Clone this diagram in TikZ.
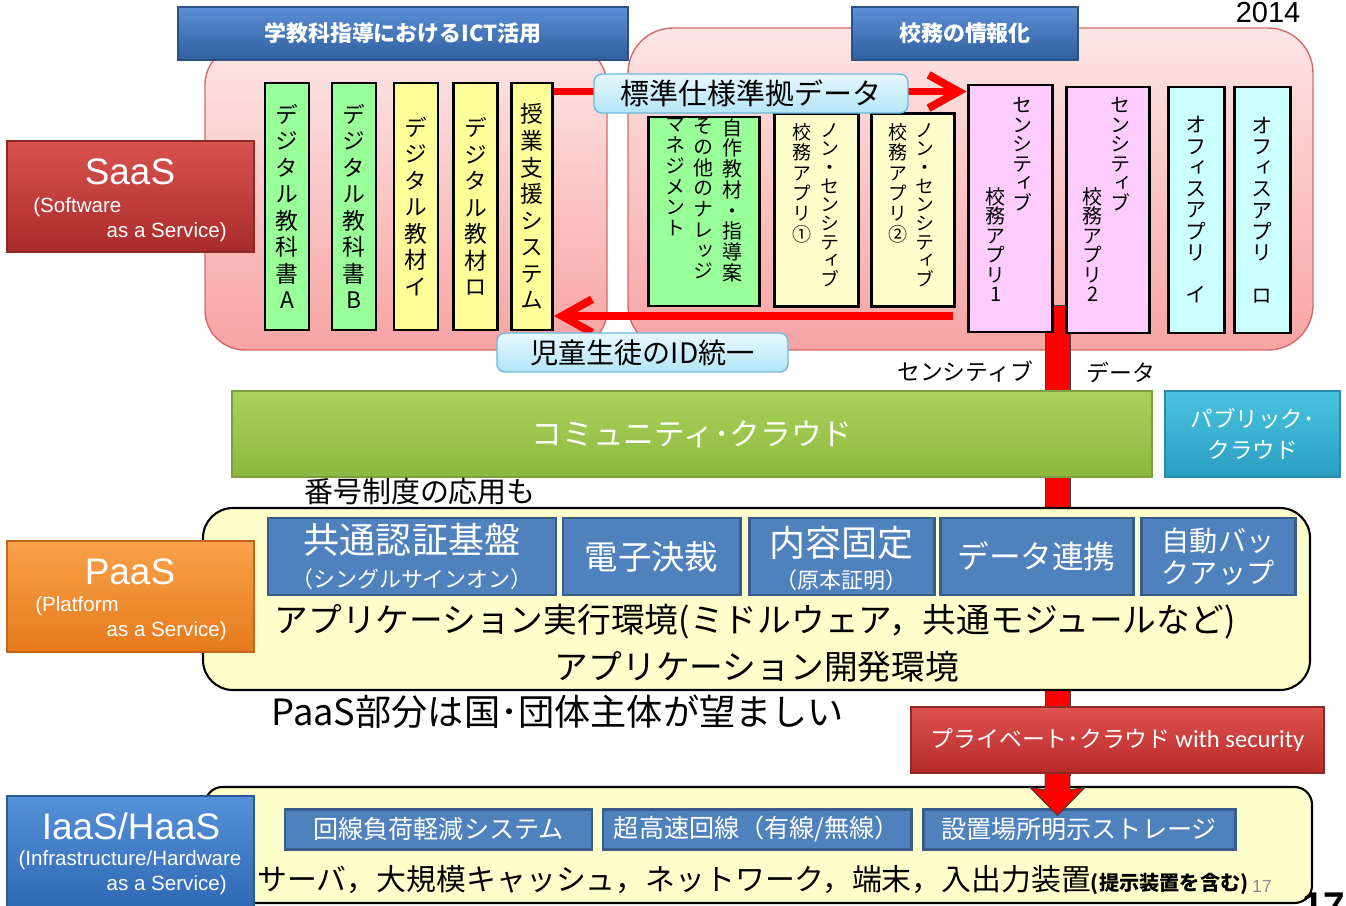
\documentclass[tikz,border=0pt]{standalone}
\usepackage{fontspec}
\setmainfont{Liberation Sans}
\newfontfamily\jp{Noto Sans CJK JP}
\newfontfamily\jpv[RawFeature=+vert]{Noto Sans CJK JP}
\newfontfamily\calfont{Carlito}
\usepackage{xcolor}
\usepackage{tikz}
\usetikzlibrary{arrows.meta,calc}

\definecolor{ttlTop}{HTML}{5B8FD4}
\definecolor{ttlBot}{HTML}{2F5F9F}
\definecolor{ttlLine}{HTML}{2B5282}
\definecolor{pinkTop}{HTML}{FDE6E6}
\definecolor{pinkBot}{HTML}{F7A3A3}
\definecolor{pinkLine}{HTML}{D46A6A}
\definecolor{grnCol}{HTML}{99FF99}
\definecolor{ylwCol}{HTML}{FFFF99}
\definecolor{ylwPale}{HTML}{FFFFCC}
\definecolor{pnkCol}{HTML}{FFCCFF}
\definecolor{cyanCol}{HTML}{CCFFFF}
\definecolor{lblTop}{HTML}{E8F8FE}
\definecolor{lblBot}{HTML}{B3E5F7}
\definecolor{lblLine}{HTML}{6DB9DB}
\definecolor{cmTop}{HTML}{A9D25A}
\definecolor{cmBot}{HTML}{8DB83E}
\definecolor{cmLine}{HTML}{7E9E42}
\definecolor{pubTop}{HTML}{4CC3E1}
\definecolor{pubBot}{HTML}{2A9EC0}
\definecolor{pubLine}{HTML}{2B8CAA}
\definecolor{saasTop}{HTML}{D9534F}
\definecolor{saasBot}{HTML}{A82B2B}
\definecolor{saasLine}{HTML}{8C2A2A}
\definecolor{paasTop}{HTML}{F9A24A}
\definecolor{paasBot}{HTML}{E57A1C}
\definecolor{paasLine}{HTML}{C0651A}
\definecolor{iaasTop}{HTML}{5591D8}
\definecolor{iaasBot}{HTML}{2F68B4}
\definecolor{iaasLine}{HTML}{2A5A95}
\definecolor{privTop}{HTML}{E05252}
\definecolor{privBot}{HTML}{B52A2A}
\definecolor{privLine}{HTML}{8C2A2A}
\definecolor{svcBlue}{HTML}{4F81BD}
\definecolor{svcLine}{HTML}{385D8A}
\definecolor{areaYel}{HTML}{FFFFCC}

\newcommand\vtxt[1]{\vtxtloop#1\relax}
\def\vtxtloop#1{\ifx\relax#1\else\hbox to 1em{\hss#1\hss}\expandafter\vtxtloop\fi}
\newcommand\vcol[2]{\vtop{\baselineskip=#1\lineskiplimit=-1em\lineskip=0pt\vtxt{#2}}}

\begin{document}
\begin{tikzpicture}[x=0.02cm, y=-0.02cm,
        every node/.style={inner sep=0pt},
        boxsize/.style 2 args={minimum width=#1*0.02cm, minimum height=#2*0.02cm},
        titlebar/.style={draw=ttlLine, line width=0.6pt, top color=ttlTop,
            bottom color=ttlBot, text=white,
            font=\jp\bfseries\fontsize{12.5}{14}\selectfont},
        pinkarea/.style={draw=pinkLine, line width=0.8pt, top color=pinkTop,
            bottom color=pinkBot},
        yellowarea/.style={draw=black, line width=1.2pt, fill=areaYel},
        appcol/.style={draw=black, line width=1.7pt},
        leftvt/.style={font=\jpv\fontsize{13}{15}\selectfont},
        smallvt/.style={anchor=north, font=\jpv\fontsize{#1}{#1}\selectfont},
        datalabel/.style={draw=lblLine, line width=0.8pt, rounded corners=0.16cm,
            top color=lblTop, bottom color=lblBot},
        redline/.style={red, line width=4.5pt,
            -{Straight Barb[length=17pt,width=19pt]}},
        redbar/.style={fill=red, draw=black!75, line width=0.5pt},
        layerbox/.style={draw=#1Line, line width=0.8pt, top color=#1Top,
            bottom color=#1Bot},
        layername/.style={text=white, font=\fontsize{21}{21}\selectfont},
        layersub/.style={text=white, font=\fontsize{11.7}{12}\selectfont},
        svcbox/.style={draw=svcLine, line width=1.7pt, fill=svcBlue, text=white},
        jptext/.style={font=\jp\fontsize{#1}{#1}\selectfont}]
        \useasboundingbox (0,0) rectangle (1346,906);

        \draw[pinkarea, rounded corners=0.8cm] (205,45) rectangle (607,350);
        \draw[pinkarea, rounded corners=0.9cm] (628,28) rectangle (1313,350);

        \node[titlebar, boxsize={450}{53}] (ictttl) at (403,33.5) 
        {学教科指導におけるICT活用};
        \node[titlebar, boxsize={226}{53}] (komuttl) at (965,33.5) {校務の情報化};
        \node[font=\fontsize{16.5}{17}\selectfont] (year) at (1268,13) {2014};

        \node[layerbox=saas, boxsize={247}{111}] (saas) at (130.5,196.5) {};
        \node[layername] (saasT) at (130,172) {SaaS};
        \node[layersub, anchor=west] (saasL) at (33,207) {(Software};
        \node[layersub, anchor=east] (saasR) at (227,232) {as a Service)};

        \coordinate (bartop) at (1057.5,305);
        \draw[redbar] ($(bartop)+(-12.5,0)$) rectangle ($(bartop)+(12.5,470)$);

        \node[appcol, fill=grnCol, boxsize={44}{247}, leftvt] (dtbA) at (287,206.5) 
        {\vcol{15.1pt}{デジタル教科書A}};
        \node[appcol, fill=grnCol, boxsize={44}{247}, leftvt] (dtbB) at (354,206.5) 
        {\vcol{15.1pt}{デジタル教科書B}};
        \node[appcol, fill=ylwCol, boxsize={44}{247}, leftvt] (dmatI) at (416,206.5) 
        {\vcol{15.1pt}{デジタル教材イ}};
        \node[appcol, fill=ylwCol, boxsize={44}{247}, leftvt] (dmatRo) at (475.5,206.5) 
        {\vcol{15.1pt}{デジタル教材ロ}};
        \node[appcol, fill=ylwCol, boxsize={41}{247}, leftvt] (jugyo) at (532,206.5) 
        {\vcol{15.1pt}{授業支援システム}};

        \node[appcol, fill=grnCol, boxsize={111}{189}] (jisaku) at (703.5,211.5) {};
        \node[smallvt=11.4] (jisaku1) at (733,118) {\vcol{11.8pt}{自作教材・指導案}};
        \node[smallvt=11.4] (jisaku2) at (704,118) {\vcol{11.8pt}{その他のナレッジ}};
        \node[smallvt=11.4] (jisaku3) at (676,118) {\vcol{11.8pt}{マネジメント}};

        \node[appcol, fill=ylwPale, boxsize={84}{193}] (nonsA) at (816,210) {};
        \node[smallvt=10.8] (nonsA1) at (830,123) {\vcol{10.6pt}{ノン・センシティブ}};
        \node[smallvt=10.8] (nonsA2) at (802,123) {\vcol{11.6pt}{校務アプリ①}};
        \node[appcol, fill=ylwPale, boxsize={83}{193}] (nonsB) at (912.5,210) {};
        \node[smallvt=10.8] (nonsB1) at (925,123) {\vcol{10.6pt}{ノン・センシティブ}};
        \node[smallvt=10.8] (nonsB2) at (898,123) {\vcol{11.6pt}{校務アプリ②}};

        \node[appcol, fill=pnkCol, boxsize={84}{247}] (sensA) at (1010,208.5) {};
        \node[smallvt=11.4] (sensA1) at (1023,97) {\vcol{11.1pt}{センシティブ}};
        \node[smallvt=11.4] (sensA2) at (996,187) {\vcol{11.1pt}{校務アプリ1}};
        \node[appcol, fill=pnkCol, boxsize={83}{246}] (sensB) at (1107.5,210) {};
        \node[smallvt=11.4] (sensB1) at (1121,97) {\vcol{11.1pt}{センシティブ}};
        \node[smallvt=11.4] (sensB2) at (1093,187) {\vcol{11.1pt}{校務アプリ2}};

        \node[appcol, fill=cyanCol, boxsize={56}{246}, font=\jpv\fontsize{12}{12}\selectfont] 
        (offI) at (1196,210) {\vcol{12.1pt}{オフィスアプリ　イ}};
        \node[appcol, fill=cyanCol, boxsize={56}{246}, font=\jpv\fontsize{12}{12}\selectfont] 
        (offRo) at (1262,210) {\vcol{12.1pt}{オフィスアプリ　ロ}};

        \coordinate (stdfrom) at ($(jugyo.north east)+(0,10)$);
        \draw[redline] (stdfrom) -- (stdfrom -| sensA.west);
        \coordinate (idfrom) at (953,316);
        \draw[redline] (idfrom) -- (idfrom -| jugyo.east);

        \node[datalabel, boxsize={314}{39}, jptext=16.5] (stddata) at (751,93.5) 
        {標準仕様準拠データ};
        \node[datalabel, boxsize={291}{39}, jptext=16] (idlabel) at (642.5,352.5) 
        {児童生徒のID統一};

        \node[jptext=13] (senslbl) at (965,372) {センシティブ};
        \node[jptext=13] (datalbl) at (1121,372) {データ};

        \node[layerbox=cm, boxsize={920}{86}, text=white, jptext=17.5] (community) 
        at (692,434) {コミュニティ･クラウド};
        \node[layerbox=pub, boxsize={175}{86}, text=white, align=center, 
        font=\jp\fontsize{12.8}{17.6}\selectfont] (public) at (1252.5,434) 
        {パブリック･\\クラウド};
        \node[jptext=16.5] (bango) at (420,492) {番号制度の応用も};

        \draw[yellowarea, rounded corners=0.6cm] (203,508) rectangle (1310,690);
        \node[layerbox=paas, boxsize={247}{111}] (paas) at (130.5,596.5) {};
        \node[layername] (paasT) at (130,572) {PaaS};
        \node[layersub, anchor=west] (paasL) at (35,606) {(Platform};
        \node[layersub, anchor=east] (paasR) at (227,631) {as a Service)};

        \node[svcbox, boxsize={288}{77}] (sso) at (412,556.5) {};
        \node[text=white, jptext=20.5] (ssoT) at (412,540) {共通認証基盤};
        \node[text=white, jptext=12.5] (ssoS) at (412,579) {（シングルサインオン）};
        \node[svcbox, boxsize={177}{77}, jptext=19] (esign) at (651.5,556.5) {電子決裁};
        \node[svcbox, boxsize={185}{77}] (fixed) at (841.5,556.5) {};
        \node[text=white, jptext=20.5] (fixedT) at (841.5,543) {内容固定};
        \node[text=white, jptext=12.5] (fixedS) at (841.5,580) {（原本証明）};
        \node[svcbox, boxsize={193}{77}, jptext=18] (link) at (1036.5,556.5) {データ連携};
        \node[svcbox, boxsize={154}{77}, align=center, 
        font=\jp\fontsize{16}{18.2}\selectfont] (backup) at (1218,556.5) 
        {自動バッ\\クアップ};

        \node[jptext=19.2] (runenv) at (755,622) 
        {アプリケーション実行環境(ミドルウェア，共通モジュールなど)};
        \node[jptext=19.2] (devenv) at (757,667) {アプリケーション開発環境};
        \node[jptext=20.6] (paasnote) at (558,712) {PaaS部分は国･団体主体が望ましい};

        \node[layerbox=priv, boxsize={413}{66}, text=white] (priv) at (1117.5,740) 
        {{\jp\fontsize{13}{14}\selectfont プライベート･クラウド} 
        {\calfont\fontsize{14}{14}\selectfont with security}};

        \draw[yellowarea, rounded corners=0.35cm] (205,787) rectangle (1312,903);
        \node[layerbox=iaas, boxsize={247}{112}] (iaas) at (130.5,852) {};
        \node[layername] (iaasT) at (131,826) {IaaS/HaaS};
        \node[layersub] (iaasL) at (130,860) {(Infrastructure/Hardware};
        \node[layersub, anchor=east] (iaasR) at (227,885) {as a Service)};

        \node[svcbox, boxsize={307}{40}, jptext=14.3] (kaisen) at (438.5,829) 
        {回線負荷軽減システム};
        \node[svcbox, boxsize={308}{40}, jptext=14.3] (kosoku) at (757,829) 
        {超高速回線（有線/無線）};
        \node[svcbox, boxsize={312}{40}, jptext=14.3] (stor) at (1079,829) 
        {設置場所明示ストレージ};
        \node[anchor=base west] (hwlist) at (257,890) 
        {{\jp\fontsize{17}{18}\selectfont サーバ，大規模キャッシュ，ネットワーク，端末，入出力装置}%
        {\jp\bfseries\fontsize{11.5}{12}\selectfont (提示装置を含む)}};
        \node[text=black!45, font=\fontsize{10}{10}\selectfont] (pgsmall) at (1262,886) {17};
        \node[anchor=north west, font=\bfseries\fontsize{22}{22}\selectfont] (pgbig) 
        at (1302,893) {17};

        \coordinate (tipB) at ($(bartop |- stor.north)+(0,8)$);
        \draw[redbar] ($(bartop |- priv.south)+(-12.5,1)$) 
        -- ($(bartop |- priv.south)+(-12.5,16)$) -- ($(tipB)+(-27.5,-28)$) 
        -- (tipB) -- ($(tipB)+(27.5,-28)$) -- ($(bartop |- priv.south)+(12.5,16)$) 
        -- ($(bartop |- priv.south)+(12.5,1)$);
    \end{tikzpicture}
\end{document}
